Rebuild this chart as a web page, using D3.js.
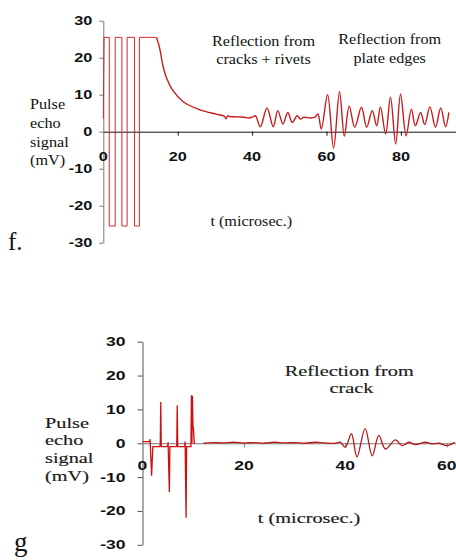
<!DOCTYPE html>
<html><head><meta charset="utf-8">
<script src="https://cdn.jsdelivr.net/npm/d3@7"></script>
<style>html,body{margin:0;padding:0;background:#fff;}svg{display:block;}</style>
</head><body>
<script>
// ---------- DATA ----------
const yTicks = [-30, -20, -10, 0, 10, 20, 30];
const xTicksF = [0, 20, 40, 60, 80];
const xTicksG = [0, 20, 40, 60];

// panel f: excitation pulse train (square wave)
const fPulseT = [0, 0.2, 1.6, 1.6, 3.2, 3.2, 5.0, 5.0, 6.4, 6.4, 8.4, 8.4, 9.7, 9.7, 14.3];
const fPulseV = [3.5, 25.5, 25.5, -25.5, -25.5, 25.5, 25.5, -25.5, -25.5, 25.5, 25.5, -25.5, -25.5, 25.5, 25.5];
// panel f: decay + echoes
const fEchoT = [14.3, 15.1, 16, 16.9, 18.6, 21.5, 26, 30.5, 32.5, 33, 33.4, 34, 36, 38, 39, 40,
  40.9, 42.2, 44.0, 45.7, 46.9, 48.3, 49.6, 50.8, 52.1, 53.0, 53.9, 55.7, 57.0, 57.7, 58.6,
  60.3, 61.9, 63.5, 64.8, 66.1, 67.6, 69.4, 70.8, 72.3, 73.5, 74.5, 75.9, 77.2, 78.6, 79.9,
  81.4, 82.8, 83.9, 85.3, 86.4, 87.8, 89.3, 90.7, 92.0, 92.9];
const fEchoV = [25.5, 22.8, 18, 14.8, 11.3, 8.1, 5.9, 4.7, 4.2, 3.5, 4.3, 4.1, 4.0, 3.9, 3.7, 3.9,
  4.3, 1.3, 6.4, 1.3, 5.7, 2.1, 5.2, 2.5, 4.3, 3.4, 3.9, 3.7, 4.0, 4.8, 0.7,
  10.0, -4.5, 10.8, -1.2, 6.9, 1.2, 6.6, 1.2, 5.7, 1.6, 6.7, -0.6, 9.3, -3.3, 10.2,
  -1.1, 6.1, 1.6, 5.2, 1.9, 6.7, 1.2, 6.4, 1.3, 5.2];

// panel g: excitation spikes
const gPulseT = [0, 1.4, 1.5, 1.65, 1.8, 1.95, 2.05, 3.4, 3.5, 3.6, 3.7, 4.95, 5.05, 5.15, 5.3, 5.4,
  6.75, 6.85, 6.95, 7.05, 8.3, 8.4, 8.5, 8.6, 8.7, 9.55, 9.65, 9.75, 9.85, 9.95, 10.05, 10.2, 10.4];
const gPulseV = [0.5, 0.5, 1.2, -4.5, -9.6, -4, -1, -1, -0.5, 12.2, -1, -1, 0.3, -6, -14.5, -1,
  -1, 11.2, -1, -1, -1, 0.5, -11, -22, -1, -1, 14.2, 0, 14, 5, 4.5, 0, 0];
// panel g: noise + crack echo
const gEchoT = [12, 14, 16, 18, 20, 22, 24, 26, 28, 30, 32, 34, 36, 38, 39, 40, 41.2, 42.3, 43.9,
  45.3, 46.6, 47.9, 49.9, 51.2, 52.5, 53.8, 55.8, 57.1, 58.4, 60.1, 61.6];
const gEchoV = [0, 0.2, 0.1, 0.3, 0.1, 0.2, 0, 0.3, 0.1, 0.2, 0, 0.3, 0.1, 0, 0.3, -1.2, 2.8, -4.0, 4.3,
  -3.7, 2.3, -1.7, 1.0, -0.7, 0.3, -0.4, 0.3, -0.2, 0, -0.7, 0.3];

// ---------- DRAW ----------
const svg = d3.select("body").append("svg").attr("width", 456).attr("height", 560);
svg.append("rect").attr("width", 456).attr("height", 560).attr("fill", "#fff");

const SERIF = "'Liberation Serif','Times New Roman',serif";
const SANS = "'Liberation Sans',Arial,sans-serif";

function txt(s, x, y, o) {
  const t = svg.append("text").text(s)
    .attr("transform", `translate(${x},${y}) scale(${o.sx || 1},1)`)
    .attr("font-family", o.family || SERIF)
    .attr("font-size", o.size)
    .attr("font-weight", o.weight || "normal")
    .attr("text-anchor", o.anchor || "start")
    .attr("fill", o.fill || "#111");
  if (o.stroke) t.attr("stroke", o.fill || "#111").attr("stroke-width", o.stroke);
  return t;
}

function panel(cfg) {
  const x = cfg.x, y = cfg.y;
  const ya = svg.append("g").attr("transform", `translate(${x(0)},0)`)
    .call(d3.axisLeft(y).tickValues(yTicks).tickSize(cfg.yTick).tickSizeOuter(0).tickFormat(() => ""));
  ya.selectAll("path,line").attr("stroke", cfg.yAxisColor).attr("stroke-width", 1);
  const xa = svg.append("g").attr("transform", `translate(0,${y(0)})`)
    .call(d3.axisBottom(x).tickValues(cfg.xTicks.filter(d => d !== 0)).tickSize(4).tickSizeOuter(0).tickFormat(() => ""));
  xa.selectAll("path,line").attr("stroke", cfg.xAxisColor).attr("stroke-width", 1);
  yTicks.forEach(v => txt(String(v), x(0) - cfg.yLabGap, y(v) + 4.5,
    { family: SANS, size: 13, weight: "bold", anchor: "end", sx: cfg.numSx }));
  cfg.xTicks.forEach(v => txt(String(v), x(v), y(0) + cfg.xLabDy,
    { family: SANS, size: 13, weight: "bold", anchor: "middle", sx: cfg.numSx }));
  const lin = d3.line().x(d => x(d[0])).y(d => y(d[1]));
  const smooth = d3.line().x(d => x(d[0])).y(d => y(d[1])).curve(d3.curveCatmullRom.alpha(0.5));
  const p = cfg.pulseT.map((t, i) => [t, cfg.pulseV[i]]);
  const e = cfg.echoT.map((t, i) => [t, cfg.echoV[i]]);
  svg.append("path").attr("d", lin(p)).attr("fill", "none")
    .attr("stroke", cfg.pulseColor).attr("stroke-width", cfg.pulseW);
  svg.append("path").attr("d", smooth(e)).attr("fill", "none")
    .attr("stroke", cfg.echoColor).attr("stroke-width", cfg.echoW).attr("stroke-linejoin", "round");
}

// panel f
const xF = d3.scaleLinear().domain([0, 95]).range([103.3, 456.7]);
const yF = d3.scaleLinear().domain([-30, 30]).range([242.7, 20.7]);
panel({ x: xF, y: yF, xTicks: xTicksF, yTick: 4, yLabGap: 11, xLabDy: 29, numSx: 1.25,
  yAxisColor: "#777", xAxisColor: "#111",
  pulseT: fPulseT, pulseV: fPulseV, echoT: fEchoT, echoV: fEchoV,
  pulseColor: "#d02a2a", pulseW: 1, echoColor: "#c81c1c", echoW: 1.4 });

// panel g
const xG = d3.scaleLinear().domain([0, 62.5]).range([142.5, 459.4]);
const yG = d3.scaleLinear().domain([-30, 30]).range([544.8, 341.7]);
panel({ x: xG, y: yG, xTicks: xTicksG, yTick: 5, yLabGap: 17, xLabDy: 27, numSx: 1.35,
  yAxisColor: "#555", xAxisColor: "#777",
  pulseT: gPulseT, pulseV: gPulseV, echoT: gEchoT, echoV: gEchoV,
  pulseColor: "#cc1111", pulseW: 1.3, echoColor: "#b81818", echoW: 1.3 });

// texts panel f
const fo = { size: 15, sx: 1.08 };
txt("Reflection from", 263.5, 46, { ...fo, anchor: "middle" });
txt("cracks + rivets", 263.5, 64, { ...fo, anchor: "middle" });
txt("Reflection from", 389.7, 44.3, { ...fo, anchor: "middle" });
txt("plate edges", 389.7, 62.5, { ...fo, anchor: "middle" });
txt("t (microsec.)", 251.3, 225.5, { ...fo, anchor: "middle" });
[["Pulse", 109], ["echo", 128], ["signal", 146.5], ["(mV)", 165]].forEach(d => txt(d[0], 30, d[1], fo));
txt("f.", 8, 250, { size: 25 });

// texts panel g
const go = { size: 14, sx: 1.45, weight: "normal", fill: "#1a1a1a", stroke: 0.15 };
txt("Reflection from", 349.3, 376, { ...go, anchor: "middle" });
txt("crack", 351.5, 393.3, { ...go, anchor: "middle" });
txt("t (microsec.)", 309, 522.7, { ...go, anchor: "middle" });
[["Pulse", 427.7], ["echo", 444.5], ["signal", 462.5], ["(mV)", 481]].forEach(d => txt(d[0], 45, d[1], go));
txt("g", 14, 551, { size: 27 });
</script>
</body></html>
